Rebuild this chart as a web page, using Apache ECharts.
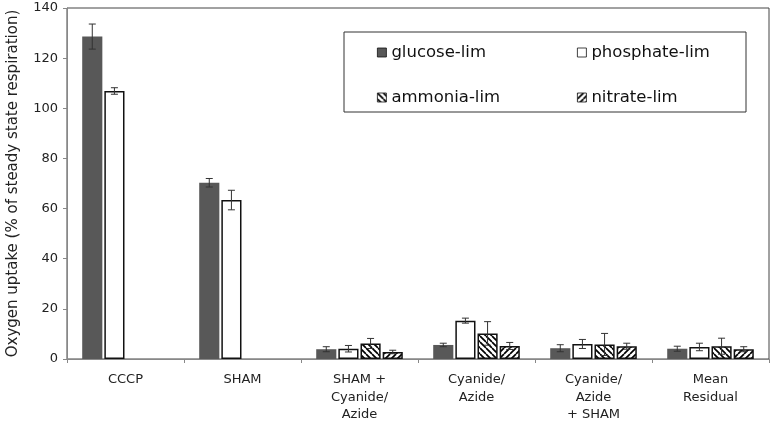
<!DOCTYPE html>
<html>
<head>
<meta charset="utf-8">
<script src="https://cdn.jsdelivr.net/npm/echarts@6/dist/echarts.min.js"></script>
<style>html,body{margin:0;padding:0;background:#fff}#c{width:773px;height:423px}</style>
</head>
<body>
<div id="c"></div>
<script>
const categories = ['CCCP', 'SHAM', 'SHAM +\nCyanide/\nAzide', 'Cyanide/\nAzide', 'Cyanide/\nAzide\n+ SHAM', 'Mean\nResidual'];
const seriesNames = ['glucose-lim', 'phosphate-lim', 'ammonia-lim', 'nitrate-lim'];
const glucose = [128.6, 70.3, 3.9, 5.6, 4.3, 4.1];
const glucoseErr = [5.0, 1.7, 1.0, 0.7, 1.4, 1.0];
const phosphate = [106.9, 63.4, 4.1, 15.3, 6.0, 4.8];
const phosphateErr = [1.3, 3.9, 1.3, 1.0, 1.8, 1.5];
const ammonia = [null, null, 6.2, 10.2, 5.8, 5.1];
const ammoniaErr = [null, null, 2.0, 4.7, 4.4, 3.2];
const nitrate = [null, null, 2.8, 5.2, 5.1, 3.9];
const nitrateErr = [null, null, 0.7, 1.4, 1.2, 1.0];
const yTicks = { min: 0, max: 140, interval: 20 };

function hatch(dir) {
  const s = 6;
  const c = document.createElement('canvas');
  c.width = s; c.height = s;
  const ctx = c.getContext('2d');
  ctx.fillStyle = '#fff';
  ctx.fillRect(0, 0, s, s);
  ctx.strokeStyle = '#000';
  ctx.lineWidth = 1.7;
  for (const k of [-s, 0, s]) {
    ctx.beginPath();
    if (dir === 'back') { ctx.moveTo(k, 0); ctx.lineTo(k + s, s); }
    else { ctx.moveTo(k, s); ctx.lineTo(k + s, 0); }
    ctx.stroke();
  }
  return c;
}

const values = [glucose, phosphate, ammonia, nitrate];
const errs = [glucoseErr, phosphateErr, ammoniaErr, nitrateErr];
const styles = [
  { color: '#585858', borderColor: '#585858', borderWidth: 0 },
  { color: '#ffffff', borderColor: '#111', borderWidth: 1.5 },
  { color: { image: hatch('back'), repeat: 'repeat' }, borderColor: '#111', borderWidth: 1.5 },
  { color: { image: hatch('fwd'), repeat: 'repeat' }, borderColor: '#111', borderWidth: 1.5 }
];
const CAT_GAP = 0.26, BAR_GAP = 0.1, N = 4;

const series = [];
values.forEach((v, i) => {
  series.push({
    name: seriesNames[i], type: 'bar', data: v,
    barCategoryGap: '26%', barGap: '10%',
    itemStyle: styles[i], emphasis: { disabled: true }
  });
});
values.forEach((v, i) => {
  const data = v.map((y, j) => y == null ? null : [j, y, errs[i][j]]).filter(d => d);
  series.push({
    type: 'custom', silent: true, z: 5,
    data: data,
    renderItem: function (params, api) {
      const j = api.value(0), y = api.value(1), e = api.value(2);
      const band = api.size([1, 0])[0];
      const used = band * (1 - CAT_GAP);
      const bw = used / (N + (N - 1) * BAR_GAP);
      const off = -used / 2 + bw / 2 + i * bw * (1 + BAR_GAP);
      const top = api.coord([j, y + e]);
      const bot = api.coord([j, y - e]);
      const x = top[0] + off;
      const cap = 3.5;
      const st = { stroke: '#333', lineWidth: 1 };
      return {
        type: 'group', children: [
          { type: 'line', shape: { x1: x, y1: top[1], x2: x, y2: bot[1] }, style: st },
          { type: 'line', shape: { x1: x - cap, y1: top[1], x2: x + cap, y2: top[1] }, style: st },
          { type: 'line', shape: { x1: x - cap, y1: bot[1], x2: x + cap, y2: bot[1] }, style: st }
        ]
      };
    }
  });
});

const legendText = { fontFamily: 'DejaVu Sans', fontSize: 16.5, color: '#111' };
const legendPos = [[372, 39], [572, 39], [372, 84], [572, 84]];
const legends = seriesNames.map((n, i) => ({
  data: [n], left: legendPos[i][0], top: legendPos[i][1],
  icon: 'rect', itemWidth: 9, itemHeight: 9, itemGap: 0,
  textStyle: legendText, selectedMode: false,
  itemStyle: { borderWidth: 0.8, borderColor: '#111' }
}));

const chart = echarts.init(document.getElementById('c'), null, { renderer: 'canvas' });
chart.setOption({
  animation: false,
  backgroundColor: '#fff',
  grid: { left: 67, right: 4, top: 8, bottom: 64, outerBoundsMode: 'none', containLabel: false, show: true, borderColor: '#444', borderWidth: 1, backgroundColor: 'transparent' },
  legend: legends,
  graphic: [{ type: 'rect', shape: { x: 344, y: 32, width: 402, height: 80 }, style: { fill: 'none', stroke: '#333', lineWidth: 1 }, z: 10 }],
  xAxis: {
    type: 'category', data: categories,
    axisLine: { lineStyle: { color: '#888' } },
    axisTick: { show: true, length: 4, lineStyle: { color: '#888' } },
    axisLabel: { fontFamily: 'DejaVu Sans', fontSize: 13, color: '#222', lineHeight: 17.5, margin: 12, interval: 0 }
  },
  yAxis: {
    type: 'value', min: yTicks.min, max: yTicks.max, interval: yTicks.interval,
    name: 'Oxygen uptake (% of steady state respiration)',
    nameLocation: 'middle', nameGap: 46,
    nameTextStyle: { fontFamily: 'DejaVu Sans', fontSize: 15, color: '#222' },
    axisLine: { show: true, lineStyle: { color: '#888' } },
    axisTick: { show: true, length: 4, lineStyle: { color: '#888' } },
    splitLine: { show: false },
    axisLabel: { fontFamily: 'DejaVu Sans', fontSize: 13, color: '#222', margin: 9 }
  },
  series: series
});
</script>
</body>
</html>
